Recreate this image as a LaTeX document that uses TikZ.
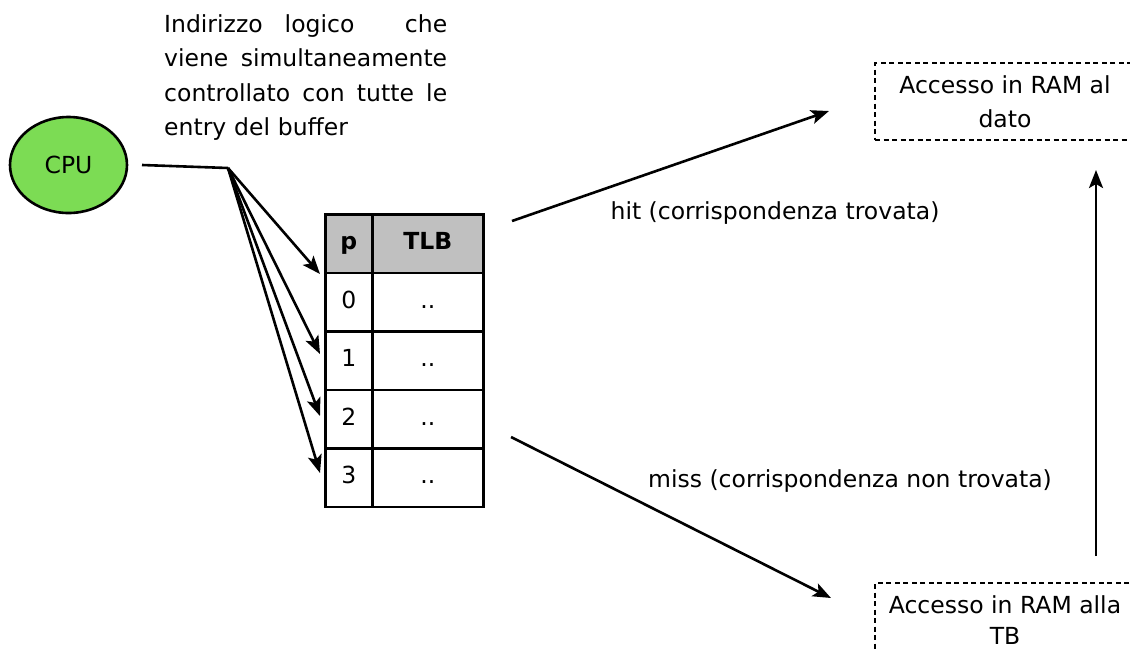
\documentclass[tikz,border=0pt]{standalone}
\usepackage{fontspec}
\setmainfont{DejaVu Sans}
\usetikzlibrary{arrows.meta,shapes.geometric}
\definecolor{cpugreen}{RGB}{124,220,84}
\definecolor{hdrgray}{RGB}{192,192,192}
\begin{document}
\begin{tikzpicture}[x=1pt,y=-1pt,
  every node/.style={font=\fontsize{23.5}{34.5}\selectfont, inner sep=0pt},
  conn/.style={line width=2.6pt, -{Stealth[length=18pt,width=14pt,inset=4pt]}},
  plainline/.style={line width=2.6pt},
  cell/.style={draw, line width=2.8pt, rectangle, minimum height=58.5pt, anchor=north west},
  pcell/.style={cell, minimum width=47pt},
  tcell/.style={cell, minimum width=111pt},
  dbox/.style={draw, dash pattern=on 5pt off 3.5pt, line width=2.4pt, minimum width=260pt, align=center}]
\useasboundingbox (0,0) rectangle (1130,649);
% CPU
\node[ellipse, draw, line width=2.6pt, fill=cpugreen, minimum width=117pt, minimum height=96pt] (cpu) at (68.5,165) {CPU};
% note
\node[anchor=north west, text width=283pt, align=left] (note) at (164,14)
  {\makebox[283pt][l]{Indirizzo\hspace{22pt}logico\hfill che}\\
   \makebox[283pt][l]{viene\hfill simultaneamente}\\
   \makebox[283pt][l]{controllato\hfill con\hfill tutte\hfill le}\\
   entry del buffer};
% table
\node[pcell, fill=hdrgray] (hp) at (324,213) {\bfseries\vphantom{Tp}p};
\node[tcell, fill=hdrgray] (ht) at (371,213) {\bfseries\vphantom{Tp}TLB};
\node[pcell] (p0) at (324,271.5) {\vphantom{Tp}0};
\node[tcell] (v0) at (371,271.5) {\vphantom{Tp}..};
\node[pcell] (p1) at (324,330) {\vphantom{Tp}1};
\node[tcell] (v1) at (371,330) {\vphantom{Tp}..};
\node[pcell] (p2) at (324,388.5) {\vphantom{Tp}2};
\node[tcell] (v2) at (371,388.5) {\vphantom{Tp}..};
\node[pcell] (p3) at (324,447) {\vphantom{Tp}3};
\node[tcell] (v3) at (371,447) {\vphantom{Tp}..};
% boxes
\node[dbox, minimum height=77pt] (datobox) at (1005,101.5) {Accesso in RAM al\\[-1pt]dato};
\node[dbox, minimum height=74pt] (tbbox) at (1005,620) {\raisebox{0pt}{Accesso in RAM alla}\\[-4pt]TB};
% labels
\node (hit) at (775,213) {hit (corrispondenza trovata)};
\node (miss) at (850,481) {miss (corrispondenza non trovata)};
% coordinates
\coordinate (cpuout) at (142,165);
\coordinate (fan) at (228,168);
\coordinate (t0) at (320,274);
\coordinate (t1) at (320,354);
\coordinate (t2) at (320,416);
\coordinate (t3) at (320,473);
\coordinate (hs) at (512,221);
\coordinate (he) at (829,111);
\coordinate (ms) at (511,437);
\coordinate (me) at (831,598);
\coordinate (us) at (1096,556);
\coordinate (ue) at (1096,170);
% connectors
\draw[plainline] (cpuout) -- (fan);
\foreach \i in {0,1,2,3} {\draw[conn] (fan) -- (t\i);}
\draw[conn] (hs) -- (he);
\draw[conn] (ms) -- (me);
\draw[conn] (us) -- (ue);
\end{tikzpicture}
\end{document}
